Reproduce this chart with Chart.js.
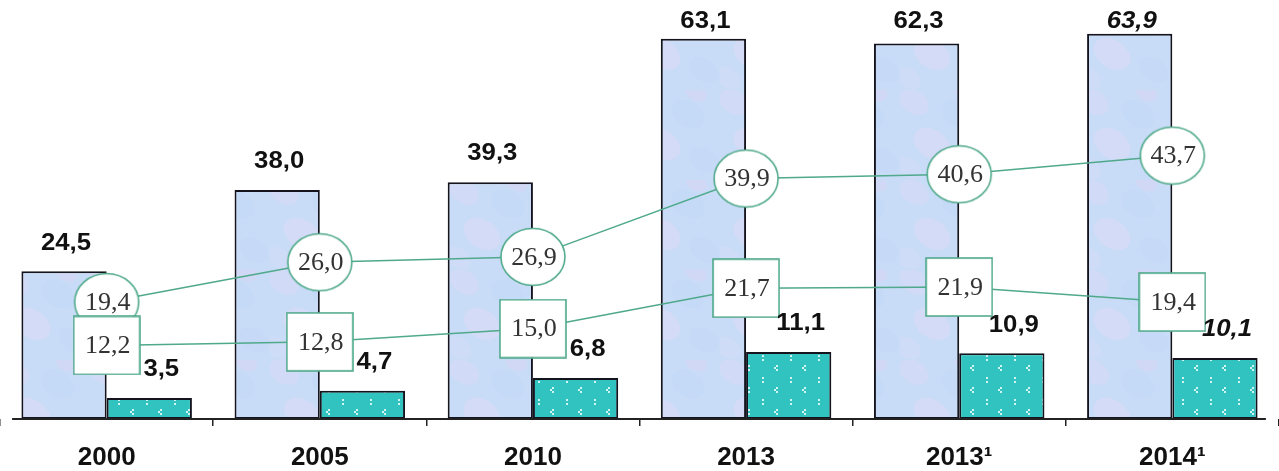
<!DOCTYPE html>
<html>
<head>
<meta charset="utf-8">
<script src="https://cdn.jsdelivr.net/npm/chart.js@4.4.0/dist/chart.umd.min.js"></script>
<style>
  html, body { margin: 0; padding: 0; background: #fff; }
  #wrap { width: 1279px; height: 471px; }
</style>
</head>
<body>
<div id="wrap"><canvas id="chart"></canvas></div>
<script>
const years = ["2000", "2005", "2010", "2013", "2013\u00b9", "2014\u00b9"];
const bigBars = [24.5, 38.0, 39.3, 63.1, 62.3, 63.9];
const smallBars = [3.5, 4.7, 6.8, 11.1, 10.9, 10.1];
const circleLine = [19.4, 26.0, 26.9, 39.9, 40.6, 43.7];
const squareLine = [12.2, 12.8, 15.0, 21.7, 21.9, 19.4];
const italicIndex = 5;

const green = "#4fa98a";
const fmt = v => v.toFixed(1).replace(".", ",");

// soft bluish texture for the tall bars
function bluePattern() {
    const c = document.createElement("canvas");
    c.width = 90; c.height = 90;
    const g = c.getContext("2d");
    g.fillStyle = "#c9dcf7";
    g.fillRect(0, 0, 90, 90);
    const blobs = [
        [14, 12, 16, "#dcd6f4"], [58, 24, 18, "#c1d6f6"], [32, 54, 20, "#dfdaf5"],
        [74, 70, 16, "#c4d8f7"], [8, 78, 14, "#d6dcf6"], [66, 2, 12, "#d9d3f3"]
    ];
    blobs.forEach(([x, y, r, col]) => {
        g.globalAlpha = 0.45;
        g.fillStyle = col;
        g.beginPath();
        g.ellipse(x, y, r, r * 0.7, 0.6, 0, Math.PI * 2);
        g.fill();
    });
    g.globalAlpha = 1;
    return g.createPattern(c, "repeat");
}

// teal with little white marks
function tealPattern() {
    const c = document.createElement("canvas");
    c.width = 28; c.height = 22;
    const g = c.getContext("2d");
    g.fillStyle = "#30c3c0";
    g.fillRect(0, 0, 28, 22);
    g.fillStyle = "rgba(255,255,255,0.8)";
    g.fillRect(6, 3, 2, 2);
    g.fillRect(6, 7, 2, 2);
    g.fillRect(20, 13, 2, 2);
    g.fillRect(18, 15, 2, 2);
    g.fillRect(20, 17, 2, 2);
    return g.createPattern(c, "repeat");
}

function marker(kind) {
    const c = document.createElement("canvas");
    c.width = 68; c.height = 60;
    const g = c.getContext("2d");
    g.fillStyle = "#fff";
    g.strokeStyle = green;
    g.lineWidth = 1.6;
    if (kind === "circle") {
        g.beginPath();
        g.ellipse(34, 30, 32, 28.5, 0, 0, Math.PI * 2);
        g.fill();
        g.stroke();
    } else {
        g.fillRect(1, 1, 66, 58);
        g.strokeRect(1, 1, 66, 58);
    }
    return c;
}

function wideText(ctx, text, x, y, sx) {
    ctx.save();
    ctx.translate(x, y);
    ctx.scale(sx, 1);
    ctx.fillText(text, 0, 0);
    ctx.restore();
}

const valueLabels = {
    id: "valueLabels",
    afterDatasetsDraw(chart) {
        const ctx = chart.ctx;
        ctx.save();
        ctx.textAlign = "center";
        ctx.textBaseline = "middle";
        ctx.fillStyle = "#111";
        [0, 1].forEach(di => {
            const meta = chart.getDatasetMeta(di);
            const vals = chart.data.datasets[di].data;
            meta.data.forEach((bar, i) => {
                ctx.font = (i === italicIndex ? "italic " : "") + "bold 23px 'Liberation Sans', Arial, sans-serif";
                const dx = di === 0 ? 2 : 12;
                const y = Math.max(bar.y - 28, 22);
                wideText(ctx, fmt(vals[i]), bar.x + dx, y, 1.12);
            });
        });
        ctx.font = "26px 'Liberation Serif', 'Times New Roman', serif";
        ctx.fillStyle = "#333";
        [2, 3].forEach(di => {
            const meta = chart.getDatasetMeta(di);
            const vals = chart.data.datasets[di].data;
            meta.data.forEach((pt, i) => {
                ctx.fillText(fmt(vals[i]), pt.x + 1, pt.y + 1);
            });
        });
        ctx.restore();
    }
};

const axisLine = {
    id: "axisLine",
    afterDraw(chart) {
        const { ctx, chartArea } = chart;
        ctx.save();
        ctx.strokeStyle = "#222";
        ctx.lineWidth = 2;
        ctx.beginPath();
        ctx.moveTo(chartArea.left + 12, chartArea.bottom);
        ctx.lineTo(chartArea.right - 13, chartArea.bottom);
        ctx.stroke();
        ctx.restore();
    }
};

const ctx = document.getElementById("chart").getContext("2d");
const chart = new Chart(ctx, {
    data: {
        labels: years,
        datasets: [
            {
                type: "bar",
                data: bigBars,
                backgroundColor: bluePattern(),
                borderColor: "#14141e",
                borderWidth: 2,
                borderSkipped: false,
                barPercentage: 1,
                categoryPercentage: 0.8,
                order: 2
            },
            {
                type: "bar",
                data: smallBars,
                backgroundColor: tealPattern(),
                borderColor: "#14141e",
                borderWidth: 2,
                borderSkipped: false,
                barPercentage: 1,
                categoryPercentage: 0.8,
                order: 2
            },
            {
                type: "line",
                data: circleLine,
                borderColor: green,
                borderWidth: 1.5,
                pointStyle: marker("circle"),
                pointRadius: 0.1,
                pointBorderWidth: 0,
                pointHoverRadius: 0.1,
                tension: 0,
                order: 1
            },
            {
                type: "line",
                data: squareLine,
                borderColor: green,
                borderWidth: 1.5,
                pointStyle: marker("rect"),
                pointRadius: 0.1,
                pointBorderWidth: 0,
                pointHoverRadius: 0.1,
                tension: 0,
                order: 0
            }
        ]
    },
    options: {
        responsive: true,
        maintainAspectRatio: false,
        animation: false,
        layout: { padding: 0 },
        plugins: {
            legend: { display: false },
            tooltip: { enabled: false }
        },
        scales: {
            x: {
                offset: true,
                border: { display: false },
                grid: {
                    offset: true,
                    drawOnChartArea: false,
                    drawTicks: true,
                    tickLength: 7,
                    color: "#222",
                    lineWidth: 1.5
                },
                ticks: {
                    color: "#111",
                    padding: 16,
                    font: { family: "'Liberation Sans', Arial, sans-serif", size: 26, weight: "bold" }
                },
                afterFit: s => { s.height = 52; }
            },
            y: {
                display: false,
                min: 0,
                max: 69.5
            }
        }
    },
    plugins: [valueLabels, axisLine]
});
</script>
</body>
</html>
